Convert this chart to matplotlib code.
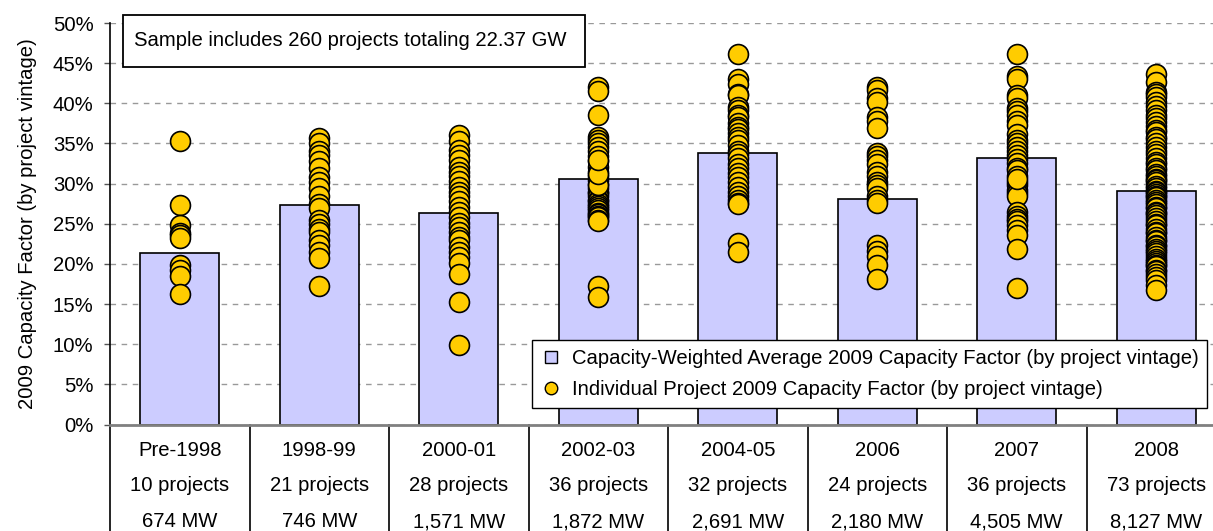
import matplotlib
matplotlib.use("Agg")
import matplotlib.pyplot as plt
from matplotlib.lines import Line2D
from matplotlib.patches import Rectangle
from matplotlib.ticker import FuncFormatter

plt.rcParams['font.family'] = ['Liberation Sans', 'DejaVu Sans']

# vintage groups and their table rows
vintages = ["Pre-1998", "1998-99", "2000-01", "2002-03", "2004-05", "2006", "2007", "2008"]
n_projects = ["10 projects", "21 projects", "28 projects", "36 projects",
              "32 projects", "24 projects", "36 projects", "73 projects"]
capacity_mw = ["674 MW", "746 MW", "1,571 MW", "1,872 MW",
               "2,691 MW", "2,180 MW", "4,505 MW", "8,127 MW"]

# capacity-weighted average 2009 capacity factor (%)
weighted_avg = [21.4, 27.3, 26.4, 30.6, 33.8, 28.1, 33.2, 29.1]

# individual project 2009 capacity factors (%)
cf_pre1998 = [35.3, 27.3, 24.8, 23.9, 23.6, 23.2, 19.9, 19.2, 18.5, 16.2]
cf_1998_99 = [35.7, 35.0, 34.0, 33.5, 32.8, 32.0, 30.8, 30.2, 29.4, 28.4, 27.5,
              26.9, 25.5, 25.0, 24.4, 24.0, 23.0, 22.4, 21.5, 20.7, 17.3]
cf_2000_01 = [36.1, 35.3, 34.2, 33.5, 32.9, 32.1, 31.5, 30.9, 30.3, 29.6, 29.0,
              28.4, 27.8, 27.1, 26.5, 25.9, 25.1, 24.6, 24.0, 23.4, 23.0, 22.1,
              21.5, 20.9, 20.1, 18.8, 15.2, 9.9]
cf_2002_03 = [42.0, 41.5, 38.6, 35.8, 35.4, 35.0, 34.5, 34.0, 33.4, 32.8, 32.1,
              31.5, 30.9, 30.4, 30.0, 29.5, 29.0, 28.8, 28.4, 28.0, 27.8, 27.5,
              27.2, 27.0, 26.7, 26.4, 26.2, 26.0, 25.8, 25.5, 25.3, 29.8, 31.2,
              33.0, 17.2, 15.9]
cf_2004_05 = [46.2, 43.0, 42.4, 41.2, 41.0, 39.5, 39.2, 38.6, 38.3, 37.6, 37.1,
              36.8, 36.3, 35.8, 35.4, 34.8, 34.0, 33.7, 33.2, 32.5, 32.0, 31.3,
              30.8, 30.2, 29.6, 29.0, 28.5, 28.0, 27.6, 27.4, 22.6, 21.5]
cf_2006 = [42.0, 41.6, 40.6, 40.2, 38.3, 37.8, 36.9, 33.8, 33.4, 32.9, 32.5, 31.5,
           31.0, 30.2, 29.8, 29.5, 28.4, 28.0, 27.6, 22.4, 21.6, 21.0, 19.9, 18.1]
cf_2007 = [46.2, 43.4, 43.0, 41.0, 40.6, 39.4, 39.0, 38.5, 37.8, 37.3, 36.2, 35.4,
           35.0, 34.6, 34.0, 33.5, 33.1, 32.6, 32.0, 31.7, 31.0, 30.2, 29.8, 29.2,
           28.8, 28.4, 26.5, 26.0, 25.6, 25.3, 24.8, 24.2, 23.6, 21.9, 17.0, 30.6]
cf_2008 = [43.7, 42.6, 41.4, 41.1, 40.8, 40.1, 39.7, 39.2, 38.6, 38.2, 37.7, 37.2,
           36.7, 36.4, 35.8, 35.5, 35.1, 34.5, 34.0, 33.7, 33.2, 32.7, 32.5, 32.0,
           31.7, 31.2, 31.0, 30.6, 30.4, 30.2, 29.7, 29.5, 29.1, 28.9, 28.7, 28.4,
           28.3, 28.0, 27.7, 27.5, 27.1, 26.9, 26.5, 26.3, 26.1, 25.7, 25.3, 25.0,
           24.8, 24.3, 24.0, 23.8, 23.4, 23.0, 22.8, 22.4, 22.2, 21.8, 21.6, 21.3,
           21.0, 20.6, 20.4, 20.1, 19.9, 19.7, 19.3, 19.1, 18.7, 18.4, 18.0, 17.4, 16.7]
project_cf = [cf_pre1998, cf_1998_99, cf_2000_01, cf_2002_03,
              cf_2004_05, cf_2006, cf_2007, cf_2008]

bar_color = "#CCCCFF"
dot_color = "#FFCC00"
fs = 14.6

W, H = 1213, 531
fig = plt.figure(figsize=(W / 100, H / 100), dpi=100)
ax = fig.add_axes([110 / W, 106.5 / H, 1116 / W, 401.5 / H])

x = range(len(vintages))
ax.bar(x, weighted_avg, width=0.565, color=bar_color, edgecolor="black",
       linewidth=1.2, zorder=2)
for i, vals in enumerate(project_cf):
    ax.scatter([i] * len(vals), vals, s=205, color=dot_color, edgecolor="black",
               linewidth=1.2, zorder=3)

ax.set_xlim(-0.5, len(vintages) - 0.5)
ax.set_ylim(0, 50)
ax.set_yticks(range(0, 51, 5))
ax.yaxis.set_major_formatter(FuncFormatter(lambda v, p: f"{v:.0f}%"))
ax.tick_params(axis="y", labelsize=fs, length=4.3, width=1, color="#555555", pad=7.5)
ax.set_xticks([])
ax.yaxis.grid(True, linestyle=(0, (4, 4)), color="#999999", linewidth=1.0, zorder=0)
ax.set_axisbelow(True)
for side in ["top", "right"]:
    ax.spines[side].set_visible(False)
ax.spines["left"].set_color("black")
ax.spines["left"].set_linewidth(1.2)
ax.spines["bottom"].set_color("#808080")
ax.spines["bottom"].set_linewidth(2)
ax.set_ylabel("2009 Capacity Factor (by project vintage)", fontsize=fs)
ax.yaxis.set_label_coords((37 - 110) / 1116, 0.5)

# table under the axis: boundaries and three text rows
for b in range(len(vintages) + 1):
    ax.plot([b - 0.5, b - 0.5], [0, -14], color="black", linewidth=1.2,
            clip_on=False, zorder=1)
for i in x:
    ax.text(i, -3.2, vintages[i], ha="center", va="center", fontsize=fs, clip_on=False)
    ax.text(i, -7.65, n_projects[i], ha="center", va="center", fontsize=fs, clip_on=False)
    ax.text(i, -12.1, capacity_mw[i], ha="center", va="center", fontsize=fs, clip_on=False)

# sample size note
fig.patches.append(Rectangle((123 / W, 1 - 67 / H), 462 / W, 52 / H,
                             transform=fig.transFigure, facecolor="white",
                             edgecolor="black", linewidth=1.3, zorder=5))
fig.text(134 / W, 1 - 41 / H, "Sample includes 260 projects totaling 22.37 GW",
         ha="left", va="center", fontsize=fs, zorder=6)

handles = [
    Line2D([], [], marker="s", linestyle="", markersize=9, markerfacecolor=bar_color,
           markeredgecolor="black", markeredgewidth=1.0),
    Line2D([], [], marker="o", linestyle="", markersize=9, markerfacecolor=dot_color,
           markeredgecolor="black", markeredgewidth=1.0),
]
labels = ["Capacity-Weighted Average 2009 Capacity Factor (by project vintage)",
          "Individual Project 2009 Capacity Factor (by project vintage)"]
leg = fig.legend(handles, labels, loc="upper left",
                 bbox_to_anchor=(532 / W, 1 - 340 / H), borderaxespad=0,
                 fontsize=fs, frameon=True, fancybox=False, framealpha=1,
                 edgecolor="black", handletextpad=0.5, handlelength=1.0,
                 labelspacing=0.6, borderpad=0.45)
leg.get_frame().set_linewidth(1.0)

fig.savefig("out.png", dpi=100)
